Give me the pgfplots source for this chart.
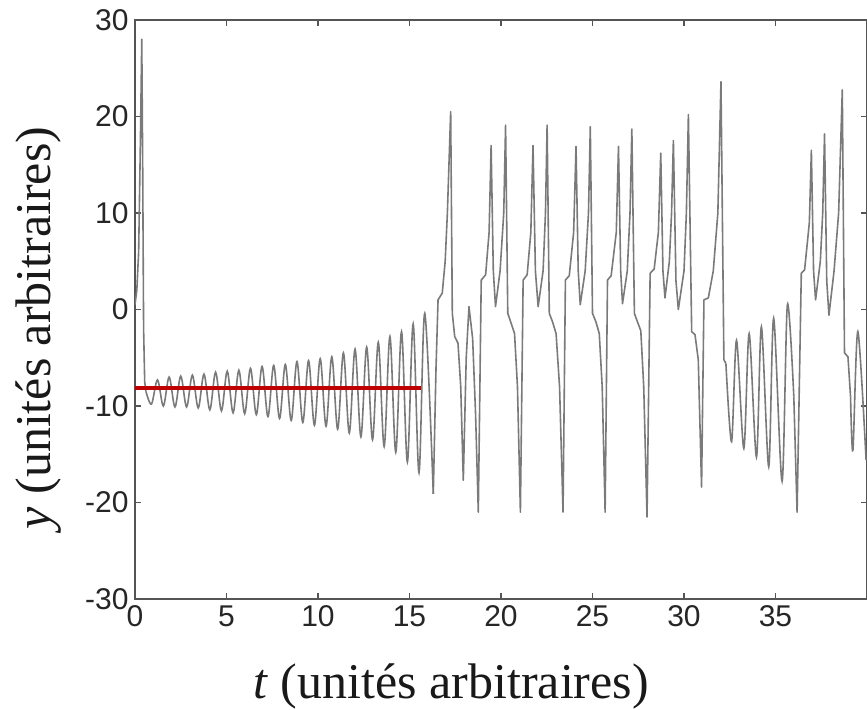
\documentclass[border=0pt]{standalone}
\usepackage{fontspec}
\setmainfont{Liberation Serif}
\newfontfamily\ticksf{Liberation Sans}
\usepackage{pgfplots}
\pgfplotsset{compat=1.18}
\usetikzlibrary{calc}
\definecolor{trace}{HTML}{7A7A7A}
\definecolor{frame}{HTML}{555555}
\definecolor{marker}{HTML}{C00000}

\begin{document}
\begin{tikzpicture}
\begin{axis}[
  scale only axis,
  width=366pt, height=289.5pt,
  xmin=0, xmax=40, ymin=-30, ymax=30,
  xtick={0,5,...,35}, ytick={-30,-20,...,30},
  axis line style={frame, line width=0.7pt},
  tick style={frame, line width=0.6pt},
  major tick length=3pt,
  /pgf/number format/assume math mode=true,
  tick label style={font=\ticksf\fontsize{15}{18}\selectfont, text=black!85},
  xticklabel style={inner sep=0pt, yshift=-3pt},
  yticklabel style={inner sep=0pt, xshift=-3pt},
  xlabel={\textit{t} (unités arbitraires)},
  ylabel={\textit{y} (unités arbitraires)},
  label style={font=\fontsize{25}{30}\selectfont, text=black!90},
  xlabel style={at={(axis description cs:0.432,-0.171)}, anchor=base},
  ylabel style={at={(axis description cs:-0.1161,0.468)}, anchor=base},
]
% start-up transient
\addplot[trace, line width=0.8pt, line join=round] coordinates {
  (0,0.5) (0.1,2) (0.2,6) (0.3,18) (0.37,28) (0.42,15) (0.47,-2) (0.53,-7.5) (0.6,-8.5)
};
% slowly growing oscillation round the fixed point
\addplot[trace, line width=0.8pt, smooth, tension=0.55] coordinates {
  (0.6,-8.5) (0.9,-9.8) (1.23,-7.3) (1.55,-10.0) (1.865,-7.0) (2.185,-10.1)
  (2.50,-6.9) (2.82,-10.1) (3.135,-6.8) (3.455,-10.2) (3.77,-6.7) (4.09,-10.4)
  (4.405,-6.5) (4.725,-10.5) (5.04,-6.4) (5.36,-10.7) (5.675,-6.3) (5.995,-10.8)
  (6.31,-6.1) (6.63,-10.9) (6.945,-5.9) (7.265,-11.1) (7.58,-5.8) (7.90,-11.3)
  (8.215,-5.7) (8.535,-11.5) (8.85,-5.4) (9.17,-11.7) (9.485,-5.3) (9.805,-12.0)
  (10.12,-5.1) (10.44,-12.1) (10.755,-4.9) (11.075,-12.4) (11.39,-4.5) (11.71,-12.8)
  (12.025,-4.1) (12.345,-13.2) (12.66,-3.9) (12.98,-13.5) (13.295,-3.4) (13.615,-14.2)
  (13.93,-2.8) (14.25,-14.8) (14.565,-2.3) (14.885,-15.8) (15.20,-1.5) (15.52,-16.9)
  (15.835,-0.4) (16.3,-19.1)
};
% chaotic switching
\addplot[trace, line width=0.8pt, line join=round] coordinates {
  (16.3,-19.1) (16.45,-6) (16.56,1.0) (16.79,1.7) (16.95,5) (17.07,10) (17.25,20.5)
  (17.34,-0.4) (17.47,-2.8) (17.65,-3.5) (17.8,-8) (17.94,-17.7) (18.1,-5) (18.25,0.3)
  (18.45,-3) (18.61,-10.8) (18.76,-21) (18.92,3.05) (19.16,3.6) (19.35,8) (19.46,17.0)
  (19.58,4) (19.70,0.3) (19.95,4) (20.15,10) (20.25,19.1) (20.37,-0.4) (20.55,-1.4)
  (20.74,-2.5) (20.9,-8) (21.06,-21) (21.21,3.05) (21.43,3.6) (21.63,8) (21.75,17.0)
  (21.88,4) (22.03,0.3) (22.3,4) (22.43,10) (22.52,19.1) (22.64,-0.4) (22.82,-1.3)
  (23.01,-2.5) (23.2,-8) (23.39,-21) (23.52,3.05) (23.73,3.5) (23.97,8) (24.1,16.9)
  (24.22,4) (24.33,0.5) (24.6,4) (24.78,10) (24.88,18.95) (25.0,-0.4) (25.19,-1.3)
  (25.37,-2.5) (25.53,-8) (25.69,-21) (25.82,3.05) (26.02,3.5) (26.3,8) (26.42,16.9)
  (26.54,4) (26.64,0.6) (26.9,4) (27.05,10) (27.15,18.7) (27.29,-0.4) (27.44,-1.2)
  (27.64,-2.2) (27.8,-8) (27.98,-21.5) (28.15,3.75) (28.37,4.2) (28.6,8) (28.73,16.2)
  (28.85,4) (28.96,1.2) (29.2,5) (29.32,10) (29.42,17.5) (29.56,3) (29.69,0)
  (30.0,4) (30.13,10) (30.24,20.2) (30.42,-2.3) (30.6,-2.6) (30.78,-5.2) (30.96,-18.4)
  (31.09,1.0) (31.33,1.2) (31.6,4) (31.85,10) (32.02,23.6) (32.18,-5.2) (32.29,-5.6)
};
\addplot[trace, line width=0.8pt, smooth, tension=0.5] coordinates {
  (32.29,-5.6) (32.6,-13.7) (32.87,-3.2) (33.27,-14.4) (33.56,-2.5) (33.96,-15.3)
  (34.23,-1.8) (34.63,-16.3) (34.9,-0.9) (35.36,-17.8) (35.65,0.5) (36.0,-9)
};
\addplot[trace, line width=0.8pt, line join=round] coordinates {
  (36.0,-9) (36.18,-21) (36.41,3.75) (36.59,4.1) (36.85,9) (36.96,16.5) (37.08,4)
  (37.19,1.0) (37.45,5) (37.58,10) (37.68,18.2) (37.8,3) (37.92,-0.6) (38.2,4)
  (38.45,10) (38.65,22.75) (38.77,-4.5) (38.96,-4.9) (39.1,-9)
};
\addplot[trace, line width=0.8pt, smooth, tension=0.5] coordinates {
  (39.1,-9) (39.23,-14.6) (39.5,-2.3) (39.95,-15.6)
};
% red reference line
\addplot[marker, line width=2pt] coordinates {(0,-8.15) (15.65,-8.15)};
\end{axis}
\pgfresetboundingbox
\path[use as bounding box] ($(current axis.south west)+(-67.5pt,-55.5pt)$) rectangle ($(current axis.north east)+(0pt,10pt)$);
\end{tikzpicture}
\end{document}
